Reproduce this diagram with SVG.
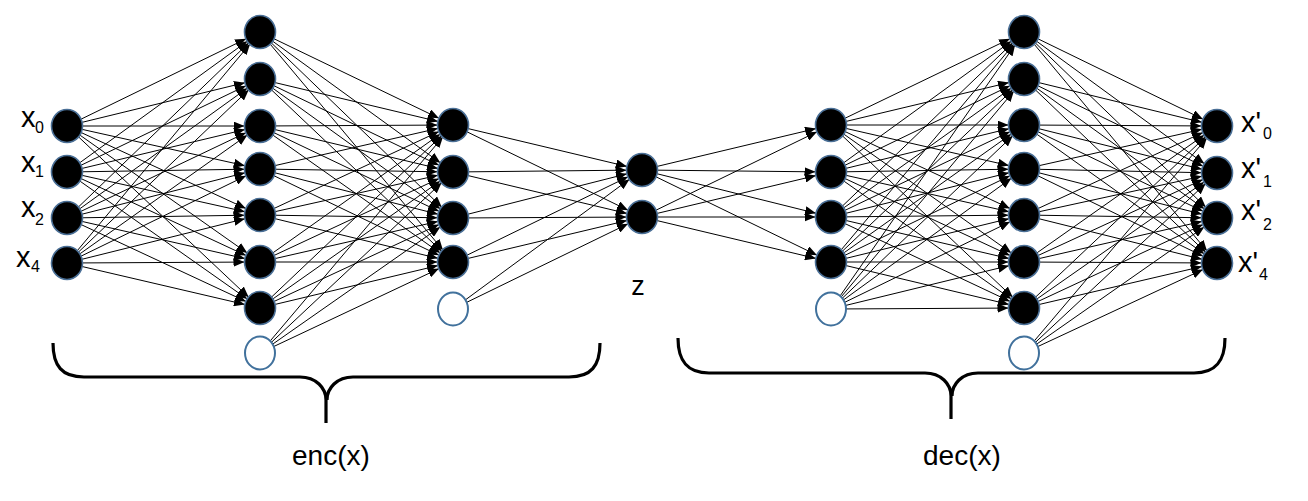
<svg xmlns="http://www.w3.org/2000/svg" width="1308" height="501" viewBox="0 0 1308 501">
<style>
.c line{stroke:#000;stroke-width:1;marker-end:url(#ah)}
.n{fill:#000;stroke:#4a6f96;stroke-width:1.6}
.b{fill:#fff;stroke:#41719c;stroke-width:2}
.t{font-family:"Liberation Sans",Arial,sans-serif;font-size:29px;fill:#000}
.s{font-size:16px}
.lb{font-size:28px}
.zl{font-size:27px}
.br{fill:none;stroke:#000;stroke-width:3.2}
</style>
<defs>
<marker id="ah" markerUnits="userSpaceOnUse" viewBox="0 0 30 9" markerWidth="30" markerHeight="9" refX="26.5" refY="4.5" orient="auto"><path d="M0,0 L11,4.5 L0,9 z" fill="#000"/></marker>
</defs>
<rect width="1308" height="501" fill="#fff"/>
<g id="connectors" class="c">
<line x1="67" y1="126" x2="260" y2="32"/><line x1="67" y1="126" x2="260" y2="79"/><line x1="67" y1="126" x2="260" y2="126"/><line x1="67" y1="126" x2="260" y2="169"/><line x1="67" y1="126" x2="260" y2="215"/><line x1="67" y1="126" x2="260" y2="262"/><line x1="67" y1="126" x2="260" y2="308"/>
<line x1="67" y1="172" x2="260" y2="32"/><line x1="67" y1="172" x2="260" y2="79"/><line x1="67" y1="172" x2="260" y2="126"/><line x1="67" y1="172" x2="260" y2="169"/><line x1="67" y1="172" x2="260" y2="215"/><line x1="67" y1="172" x2="260" y2="262"/><line x1="67" y1="172" x2="260" y2="308"/>
<line x1="67" y1="218" x2="260" y2="32"/><line x1="67" y1="218" x2="260" y2="79"/><line x1="67" y1="218" x2="260" y2="126"/><line x1="67" y1="218" x2="260" y2="169"/><line x1="67" y1="218" x2="260" y2="215"/><line x1="67" y1="218" x2="260" y2="262"/><line x1="67" y1="218" x2="260" y2="308"/>
<line x1="67" y1="263" x2="260" y2="32"/><line x1="67" y1="263" x2="260" y2="79"/><line x1="67" y1="263" x2="260" y2="126"/><line x1="67" y1="263" x2="260" y2="169"/><line x1="67" y1="263" x2="260" y2="215"/><line x1="67" y1="263" x2="260" y2="262"/><line x1="67" y1="263" x2="260" y2="308"/>
<line x1="260" y1="32" x2="453" y2="125"/><line x1="260" y1="32" x2="453" y2="172"/><line x1="260" y1="32" x2="453" y2="218"/><line x1="260" y1="32" x2="453" y2="262"/>
<line x1="260" y1="79" x2="453" y2="125"/><line x1="260" y1="79" x2="453" y2="172"/><line x1="260" y1="79" x2="453" y2="218"/><line x1="260" y1="79" x2="453" y2="262"/>
<line x1="260" y1="126" x2="453" y2="125"/><line x1="260" y1="126" x2="453" y2="172"/><line x1="260" y1="126" x2="453" y2="218"/><line x1="260" y1="126" x2="453" y2="262"/>
<line x1="260" y1="169" x2="453" y2="125"/><line x1="260" y1="169" x2="453" y2="172"/><line x1="260" y1="169" x2="453" y2="218"/><line x1="260" y1="169" x2="453" y2="262"/>
<line x1="260" y1="215" x2="453" y2="125"/><line x1="260" y1="215" x2="453" y2="172"/><line x1="260" y1="215" x2="453" y2="218"/><line x1="260" y1="215" x2="453" y2="262"/>
<line x1="260" y1="262" x2="453" y2="125"/><line x1="260" y1="262" x2="453" y2="172"/><line x1="260" y1="262" x2="453" y2="218"/><line x1="260" y1="262" x2="453" y2="262"/>
<line x1="260" y1="308" x2="453" y2="125"/><line x1="260" y1="308" x2="453" y2="172"/><line x1="260" y1="308" x2="453" y2="218"/><line x1="260" y1="308" x2="453" y2="262"/>
<line x1="260" y1="353" x2="453" y2="125"/><line x1="260" y1="353" x2="453" y2="172"/><line x1="260" y1="353" x2="453" y2="218"/><line x1="260" y1="353" x2="453" y2="262"/>
<line x1="453" y1="125" x2="642" y2="170"/><line x1="453" y1="125" x2="642" y2="217"/>
<line x1="453" y1="172" x2="642" y2="170"/><line x1="453" y1="172" x2="642" y2="217"/>
<line x1="453" y1="218" x2="642" y2="170"/><line x1="453" y1="218" x2="642" y2="217"/>
<line x1="453" y1="262" x2="642" y2="170"/><line x1="453" y1="262" x2="642" y2="217"/>
<line x1="453" y1="309" x2="642" y2="170"/><line x1="453" y1="309" x2="642" y2="217"/>
<line x1="642" y1="170" x2="831" y2="125"/><line x1="642" y1="170" x2="831" y2="172"/><line x1="642" y1="170" x2="831" y2="217"/><line x1="642" y1="170" x2="831" y2="262"/>
<line x1="642" y1="217" x2="831" y2="125"/><line x1="642" y1="217" x2="831" y2="172"/><line x1="642" y1="217" x2="831" y2="217"/><line x1="642" y1="217" x2="831" y2="262"/>
<line x1="831" y1="125" x2="1024" y2="32"/><line x1="831" y1="125" x2="1024" y2="79"/><line x1="831" y1="125" x2="1024" y2="125"/><line x1="831" y1="125" x2="1024" y2="169"/><line x1="831" y1="125" x2="1024" y2="215"/><line x1="831" y1="125" x2="1024" y2="262"/><line x1="831" y1="125" x2="1024" y2="308"/>
<line x1="831" y1="172" x2="1024" y2="32"/><line x1="831" y1="172" x2="1024" y2="79"/><line x1="831" y1="172" x2="1024" y2="125"/><line x1="831" y1="172" x2="1024" y2="169"/><line x1="831" y1="172" x2="1024" y2="215"/><line x1="831" y1="172" x2="1024" y2="262"/><line x1="831" y1="172" x2="1024" y2="308"/>
<line x1="831" y1="217" x2="1024" y2="32"/><line x1="831" y1="217" x2="1024" y2="79"/><line x1="831" y1="217" x2="1024" y2="125"/><line x1="831" y1="217" x2="1024" y2="169"/><line x1="831" y1="217" x2="1024" y2="215"/><line x1="831" y1="217" x2="1024" y2="262"/><line x1="831" y1="217" x2="1024" y2="308"/>
<line x1="831" y1="262" x2="1024" y2="32"/><line x1="831" y1="262" x2="1024" y2="79"/><line x1="831" y1="262" x2="1024" y2="125"/><line x1="831" y1="262" x2="1024" y2="169"/><line x1="831" y1="262" x2="1024" y2="215"/><line x1="831" y1="262" x2="1024" y2="262"/><line x1="831" y1="262" x2="1024" y2="308"/>
<line x1="831" y1="309" x2="1024" y2="32"/><line x1="831" y1="309" x2="1024" y2="79"/><line x1="831" y1="309" x2="1024" y2="125"/><line x1="831" y1="309" x2="1024" y2="169"/><line x1="831" y1="309" x2="1024" y2="215"/><line x1="831" y1="309" x2="1024" y2="262"/><line x1="831" y1="309" x2="1024" y2="308"/>
<line x1="1024" y1="32" x2="1217" y2="126"/><line x1="1024" y1="32" x2="1217" y2="173"/><line x1="1024" y1="32" x2="1217" y2="218"/><line x1="1024" y1="32" x2="1217" y2="263"/>
<line x1="1024" y1="79" x2="1217" y2="126"/><line x1="1024" y1="79" x2="1217" y2="173"/><line x1="1024" y1="79" x2="1217" y2="218"/><line x1="1024" y1="79" x2="1217" y2="263"/>
<line x1="1024" y1="125" x2="1217" y2="126"/><line x1="1024" y1="125" x2="1217" y2="173"/><line x1="1024" y1="125" x2="1217" y2="218"/><line x1="1024" y1="125" x2="1217" y2="263"/>
<line x1="1024" y1="169" x2="1217" y2="126"/><line x1="1024" y1="169" x2="1217" y2="173"/><line x1="1024" y1="169" x2="1217" y2="218"/><line x1="1024" y1="169" x2="1217" y2="263"/>
<line x1="1024" y1="215" x2="1217" y2="126"/><line x1="1024" y1="215" x2="1217" y2="173"/><line x1="1024" y1="215" x2="1217" y2="218"/><line x1="1024" y1="215" x2="1217" y2="263"/>
<line x1="1024" y1="262" x2="1217" y2="126"/><line x1="1024" y1="262" x2="1217" y2="173"/><line x1="1024" y1="262" x2="1217" y2="218"/><line x1="1024" y1="262" x2="1217" y2="263"/>
<line x1="1024" y1="308" x2="1217" y2="126"/><line x1="1024" y1="308" x2="1217" y2="173"/><line x1="1024" y1="308" x2="1217" y2="218"/><line x1="1024" y1="308" x2="1217" y2="263"/>
<line x1="1024" y1="353" x2="1217" y2="126"/><line x1="1024" y1="353" x2="1217" y2="173"/><line x1="1024" y1="353" x2="1217" y2="218"/><line x1="1024" y1="353" x2="1217" y2="263"/>
</g>
<g id="in0"><ellipse class="n" cx="67" cy="126" rx="15.5" ry="16.5"/><text class="t" x="21" y="127">x</text><text class="t s" x="35" y="133">0</text></g>
<g id="in1"><ellipse class="n" cx="67" cy="172" rx="15.5" ry="16.5"/><text class="t" x="21" y="172">x</text><text class="t s" x="35" y="177">1</text></g>
<g id="in2"><ellipse class="n" cx="67" cy="218" rx="15.5" ry="16.5"/><text class="t" x="21" y="217">x</text><text class="t s" x="35" y="225">2</text></g>
<g id="in4"><ellipse class="n" cx="67" cy="263" rx="15.5" ry="16.5"/><text class="t" x="16" y="267">x</text><text class="t s" x="31" y="272">4</text></g>
<g id="e1_0"><ellipse class="n" cx="260" cy="32" rx="15.5" ry="16.5"/></g>
<g id="e1_1"><ellipse class="n" cx="260" cy="79" rx="15.5" ry="16.5"/></g>
<g id="e1_2"><ellipse class="n" cx="260" cy="126" rx="15.5" ry="16.5"/></g>
<g id="e1_3"><ellipse class="n" cx="260" cy="169" rx="15.5" ry="16.5"/></g>
<g id="e1_4"><ellipse class="n" cx="260" cy="215" rx="15.5" ry="16.5"/></g>
<g id="e1_5"><ellipse class="n" cx="260" cy="262" rx="15.5" ry="16.5"/></g>
<g id="e1_6"><ellipse class="n" cx="260" cy="308" rx="15.5" ry="16.5"/></g>
<g id="e1_bias"><ellipse class="b" cx="260" cy="353" rx="15" ry="16.5"/></g>
<g id="e2_0"><ellipse class="n" cx="453" cy="125" rx="15.5" ry="16.5"/></g>
<g id="e2_1"><ellipse class="n" cx="453" cy="172" rx="15.5" ry="16.5"/></g>
<g id="e2_2"><ellipse class="n" cx="453" cy="218" rx="15.5" ry="16.5"/></g>
<g id="e2_3"><ellipse class="n" cx="453" cy="262" rx="15.5" ry="16.5"/></g>
<g id="e2_bias"><ellipse class="b" cx="453" cy="309" rx="15" ry="16.5"/></g>
<g id="z0"><ellipse class="n" cx="642" cy="170" rx="15.5" ry="16.5"/></g>
<g id="z1"><ellipse class="n" cx="642" cy="217" rx="15.5" ry="16.5"/></g>
<g id="z_label"><text class="t zl" x="638" y="295" text-anchor="middle">z</text></g>
<g id="d1_0"><ellipse class="n" cx="831" cy="125" rx="15.5" ry="16.5"/></g>
<g id="d1_1"><ellipse class="n" cx="831" cy="172" rx="15.5" ry="16.5"/></g>
<g id="d1_2"><ellipse class="n" cx="831" cy="217" rx="15.5" ry="16.5"/></g>
<g id="d1_3"><ellipse class="n" cx="831" cy="262" rx="15.5" ry="16.5"/></g>
<g id="d1_bias"><ellipse class="b" cx="831" cy="309" rx="15" ry="16.5"/></g>
<g id="d2_0"><ellipse class="n" cx="1024" cy="32" rx="15.5" ry="16.5"/></g>
<g id="d2_1"><ellipse class="n" cx="1024" cy="79" rx="15.5" ry="16.5"/></g>
<g id="d2_2"><ellipse class="n" cx="1024" cy="125" rx="15.5" ry="16.5"/></g>
<g id="d2_3"><ellipse class="n" cx="1024" cy="169" rx="15.5" ry="16.5"/></g>
<g id="d2_4"><ellipse class="n" cx="1024" cy="215" rx="15.5" ry="16.5"/></g>
<g id="d2_5"><ellipse class="n" cx="1024" cy="262" rx="15.5" ry="16.5"/></g>
<g id="d2_6"><ellipse class="n" cx="1024" cy="308" rx="15.5" ry="16.5"/></g>
<g id="d2_bias"><ellipse class="b" cx="1024" cy="353" rx="15" ry="16.5"/></g>
<g id="out0"><ellipse class="n" cx="1217" cy="126" rx="15.5" ry="16.5"/><text class="t" x="1241" y="132">x'</text><text class="t s" x="1263" y="139">0</text></g>
<g id="out1"><ellipse class="n" cx="1217" cy="173" rx="15.5" ry="16.5"/><text class="t" x="1241" y="178">x'</text><text class="t s" x="1263" y="187">1</text></g>
<g id="out2"><ellipse class="n" cx="1217" cy="218" rx="15.5" ry="16.5"/><text class="t" x="1241" y="220">x'</text><text class="t s" x="1263" y="230">2</text></g>
<g id="out4"><ellipse class="n" cx="1217" cy="263" rx="15.5" ry="16.5"/><text class="t" x="1238" y="272">x'</text><text class="t s" x="1259" y="280">4</text></g>
<g id="enc_brace"><path class="br" d="M53,343 C53,366 62,377 84,377 L300,377 C316,377 326,388 326,400 L326,423 M600,343 C600,366 591,377 569,377 L353,377 C337,377 327,388 327,400"/><text class="t lb" x="292" y="465">enc(x)</text></g>
<g id="dec_brace"><path class="br" d="M678,338 C678,361 687,373 709,373 L925,373 C941,373 951,384 951,396 L951,419 M1225,338 C1225,361 1216,373 1194,373 L978,373 C962,373 952,384 952,396"/><text class="t lb" x="923" y="465">dec(x)</text></g>
</svg>
